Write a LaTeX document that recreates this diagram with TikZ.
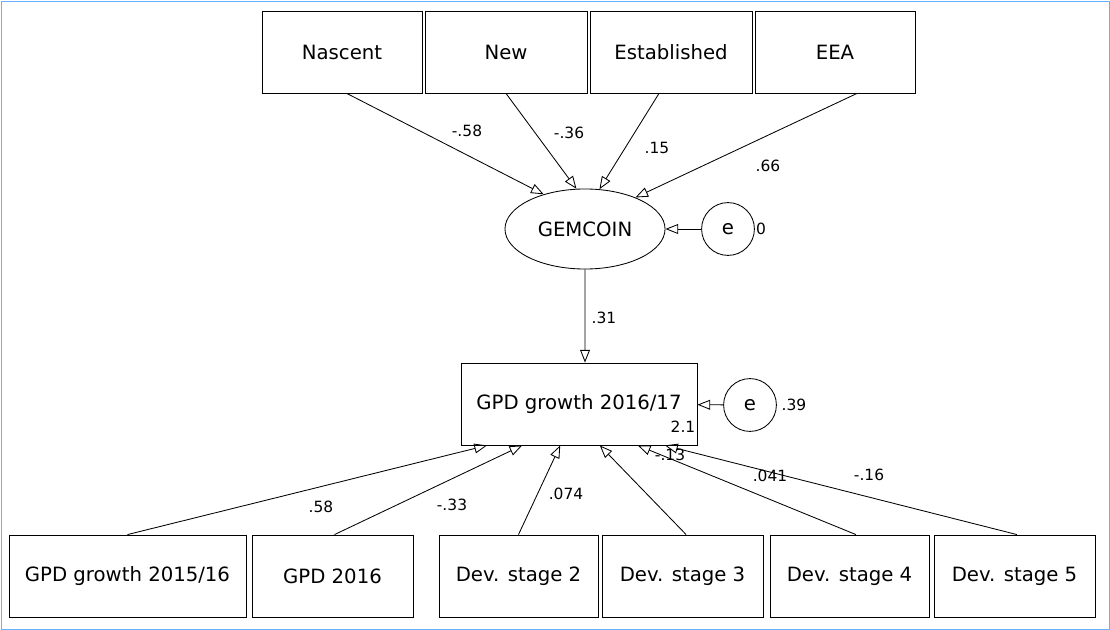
\documentclass[tikz,border=0pt]{standalone}
\usepackage{fontspec}
\setmainfont{DejaVu Sans}
\usetikzlibrary{arrows.meta, shapes.geometric}
\begin{document}
\begin{tikzpicture}[
  x = 0.025cm,
  y = -0.025cm,
  var/.style = {
    shape = rectangle,
    draw = black,
    minimum height = 2.05cm,
    inner sep = 0pt,
    font = \fontsize{14}{16}\selectfont,
  },
  latent/.style = {
    shape = ellipse,
    draw = black,
    minimum width = 4cm,
    minimum height = 2cm,
    inner sep = 0pt,
    font = \fontsize{14}{16}\selectfont,
  },
  err/.style = {
    shape = circle,
    draw = black,
    minimum size = 1.32cm,
    inner sep = 0pt,
    font = \fontsize{14}{16}\selectfont,
  },
  coef/.style = {
    font = \fontsize{11}{13}\selectfont,
    inner sep = 0pt,
  },
  reg/.style = {
    -{Triangle[open, length = 9pt, width = 7pt]},
  },
  every path/.style = {
    semithick
  }
]
  \useasboundingbox (0, 0) rectangle (1110, 630);
  \draw[color = blue!50!cyan!60, thin] (1, 1) rectangle (1109, 629);

  \draw node[var, minimum width = 4cm] (Nascent) at (342, 52) {Nascent};
  \draw node[var, minimum width = 4.05cm] (New) at (506, 52) {New};
  \draw node[var, minimum width = 4.05cm] (Established) at (671, 52) {Established};
  \draw node[var, minimum width = 4cm] (EEA) at (835, 52) {EEA};

  \draw node[latent] (GEM) at (585, 229) {GEMCOIN};
  \draw node[err] (E1) at (728, 229) {e};
  \draw node[coef] at (761, 229) {0};

  \draw node[var, minimum width = 5.9cm] (Growth) at (579, 404) {GPD growth 2016/17};
  \draw node[err] (E2) at (750, 405) {e};
  \draw node[coef] at (794, 405) {.39};
  \draw node[coef] at (683, 427) {2.1};

  \draw node[var, minimum width = 5.925cm] (B1) at (127.5, 576) {GPD growth 2015/16};
  \draw node[var, minimum width = 4.025cm] (B2) at (332.5, 576) {GPD 2016};
  \draw node[var, minimum width = 3.975cm] (B3) at (518.5, 576) {Dev. stage 2};
  \draw node[var, minimum width = 4.025cm] (B4) at (682.5, 576) {Dev. stage 3};
  \draw node[var, minimum width = 3.975cm] (B5) at (849.5, 576) {Dev. stage 4};
  \draw node[var, minimum width = 4.025cm] (B6) at (1014.5, 576) {Dev. stage 5};

  \draw[reg] ([xshift = 0.12cm] Nascent.south) -- (GEM.140);
  \draw[reg] (New.south) -- (GEM.102);
  \draw[reg] ([xshift = -0.3cm] Established.south) -- (GEM.70);
  \draw[reg] ([xshift = 0.55cm] EEA.south) -- (GEM.32);
  \draw[reg] (GEM.south) -- ([xshift = 0.15cm] Growth.north);
  \draw[reg] (E1) -- (GEM);
  \draw[reg] (E2) -- (Growth);

  \draw[reg] (B1.north) -- ([xshift = -2.3cm] Growth.south);
  \draw[reg] ([xshift = 0.05cm] B2.north) -- ([xshift = -1.42cm] Growth.south);
  \draw[reg] (B3.north) -- ([xshift = -0.47cm] Growth.south);
  \draw[reg] ([xshift = 0.09cm] B4.north) -- ([xshift = 0.52cm] Growth.south);
  \draw[reg] ([xshift = 0.16cm] B5.north) -- ([xshift = 1.47cm] Growth.south);
  \draw[reg] ([xshift = 0.06cm] B6.north) -- ([xshift = 2.15cm] Growth.south);

  \draw node[coef] at (467, 131) {-.58};
  \draw node[coef] at (569, 133) {-.36};
  \draw node[coef] at (657, 148) {.15};
  \draw node[coef] at (768, 166) {.66};
  \draw node[coef] at (604, 318) {.31};
  \draw node[coef] at (321, 507) {.58};
  \draw node[coef] at (452, 505) {-.33};
  \draw node[coef] at (566, 494) {.074};
  \draw node[coef] at (670, 455) {-.13};
  \draw node[coef] at (770, 476) {.041};
  \draw node[coef] at (869, 475) {-.16};
\end{tikzpicture}
\end{document}
